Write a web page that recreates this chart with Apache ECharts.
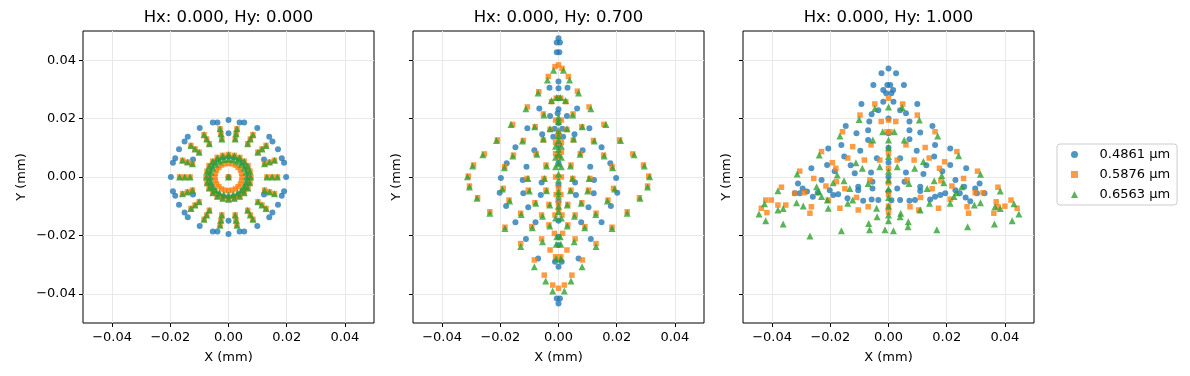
<!DOCTYPE html>
<html>
<head>
<meta charset="utf-8">
<script src="https://cdn.jsdelivr.net/npm/echarts@6/dist/echarts.min.js"></script>
<style>
  html, body { margin: 0; padding: 0; background: #fff; }
  #chart { width: 1190px; height: 376px; }
</style>
</head>
<body>
<div id="chart"></div>
<script>
// spot diagram values in mm
const titles = ['Hx: 0.000, Hy: 0.000', 'Hx: 0.000, Hy: 0.700', 'Hx: 0.000, Hy: 1.000']
const waveNames = ['0.4861 µm', '0.5876 µm', '0.6563 µm']
const tickValues = [-0.04, -0.02, 0, 0.02, 0.04]

// panel 1 (on axis)
const p1BlueOuter = [
  [0,.0195],[-.0038,.0187],[-.0054,.0187],[-.0099,.0168],[-.0140,.0138],[-.0151,.0122],[-.0170,.0095],[-.0183,.0064],[-.0191,.0049],[-.0198,0],
  [.0038,.0187],[.0054,.0187],[.0099,.0168],[.0140,.0138],[.0151,.0122],[.0170,.0095],[.0183,.0064],[.0191,.0049],[.0198,0],
  [0,-.0195],[-.0038,-.0187],[-.0054,-.0187],[-.0099,-.0168],[-.0140,-.0138],[-.0151,-.0122],[-.0170,-.0095],[-.0183,-.0064],[-.0191,-.0049],
  [.0038,-.0187],[.0054,-.0187],[.0099,-.0168],[.0140,-.0138],[.0151,-.0122],[.0170,-.0095],[.0183,-.0064],[.0191,-.0049]
]
const p1BlueInner = [
  [.0069,0],[.0067,.0018],[.0060,.0035],[.0049,.0049],[.0035,.0060],[.0018,.0067],[0,.0069],[-.0018,.0067],[-.0035,.0060],[-.0049,.0049],[-.0060,.0035],[-.0067,.0018],
  [-.0069,0],[-.0067,-.0018],[-.0060,-.0035],[-.0049,-.0049],[-.0035,-.0060],[-.0018,-.0067],[0,-.0069],[.0018,-.0067],[.0035,-.0060],[.0049,-.0049],[.0060,-.0035],[.0067,-.0018],
  [0,0],[0,.0150],[0,-.0150],[-.0122,.0060],[.0122,.0060],[-.0122,-.0060],[.0122,-.0060]
]
const p1Mid = [
  [.0132,0],[.0124,.0045],[.0101,.0085],[.0066,.0114],[.0023,.0130],[-.0023,.0130],[-.0066,.0114],[-.0101,.0085],[-.0124,.0045],
  [-.0132,0],[-.0124,-.0045],[-.0101,-.0085],[-.0066,-.0114],[-.0023,-.0130],[.0023,-.0130],[.0066,-.0114],[.0101,-.0085],[.0124,-.0045],
  [.0150,0],[.0141,.0051],[.0115,.0096],[.0075,.0130],[.0026,.0148],[-.0026,.0148],[-.0075,.0130],[-.0115,.0096],[-.0141,.0051],
  [-.0150,0],[-.0141,-.0051],[-.0115,-.0096],[-.0075,-.0130],[-.0026,-.0148],[.0026,-.0148],[.0075,-.0130],[.0115,-.0096],[.0141,-.0051],
  [.0168,0],[.0158,.0057],[.0129,.0108],[.0084,.0145],[.0029,.0165],[-.0029,.0165],[-.0084,.0145],[-.0129,.0108],[-.0158,.0057],
  [-.0168,0],[-.0158,-.0057],[-.0129,-.0108],[-.0084,-.0145],[-.0029,-.0165],[.0029,-.0165],[.0084,-.0145],[.0129,-.0108],[.0158,-.0057]
]
const p1OrangeRings = [
  [.0077,0],[.0074,.0020],[.0067,.0039],[.0054,.0054],[.0039,.0067],[.0020,.0074],[0,.0077],[-.0020,.0074],[-.0039,.0067],[-.0054,.0054],[-.0067,.0039],[-.0074,.0020],
  [-.0077,0],[-.0074,-.0020],[-.0067,-.0039],[-.0054,-.0054],[-.0039,-.0067],[-.0020,-.0074],[0,-.0077],[.0020,-.0074],[.0039,-.0067],[.0054,-.0054],[.0067,-.0039],[.0074,-.0020],
  [.0047,0],[.0045,.0012],[.0041,.0024],[.0033,.0033],[.0024,.0041],[.0012,.0045],[0,.0047],[-.0012,.0045],[-.0024,.0041],[-.0033,.0033],[-.0041,.0024],[-.0045,.0012],
  [-.0047,0],[-.0045,-.0012],[-.0041,-.0024],[-.0033,-.0033],[-.0024,-.0041],[-.0012,-.0045],[0,-.0047],[.0012,-.0045],[.0024,-.0041],[.0033,-.0033],[.0041,-.0024],[.0045,-.0012],
  [0,0]
]
const p1GreenRings = [
  [.0076,0],[.0073,.0020],[.0066,.0038],[.0054,.0054],[.0038,.0066],[.0020,.0073],[0,.0076],[-.0020,.0073],[-.0038,.0066],[-.0054,.0054],[-.0066,.0038],[-.0073,.0020],
  [-.0076,0],[-.0073,-.0020],[-.0066,-.0038],[-.0054,-.0054],[-.0038,-.0066],[-.0020,-.0073],[0,-.0076],[.0020,-.0073],[.0038,-.0066],[.0054,-.0054],[.0066,-.0038],[.0073,-.0020],
  [.0062,0],[.0060,.0016],[.0054,.0031],[.0044,.0044],[.0031,.0054],[.0016,.0060],[0,.0062],[-.0016,.0060],[-.0031,.0054],[-.0044,.0044],[-.0054,.0031],[-.0060,.0016],
  [-.0062,0],[-.0060,-.0016],[-.0054,-.0031],[-.0044,-.0044],[-.0031,-.0054],[-.0016,-.0060],[0,-.0062],[.0016,-.0060],[.0031,-.0054],[.0044,-.0044],[.0054,-.0031],[.0060,-.0016],
  [0,0]
]

// panel 2 (Hy 0.7)
const p2Blue = [
  [0,.0475],[-.0006,.0461],[.0005,.0461],[-.0006,.0427],[.0003,.0427],
  [0,.0327],[0,.0304],[-.0031,.0306],[.0031,.0306],[0,.0270],
  [-.0066,.0235],[.0064,.0235],[0,.0232],[-.0003,.0218],[-.0029,.0209],[.0029,.0209],
  [0,.0185],[-.0013,.0165],[.0013,.0165],
  [-.0107,.0167],[.0106,.0167],[-.0056,.0146],[.0055,.0146],[-.0018,.0138],[.0016,.0138],
  [-.0148,.0102],[.0148,.0102],[-.0083,.0092],[.0083,.0092],[0,.0110],
  [-.0178,.0047],[.0178,.0047],[-.0110,.0035],[.0109,.0035],[0,.0048],
  [-.0198,-.0003],[.0198,-.0003],[-.0123,-.0010],[.0122,-.0010],[-.0058,-.0019],[.0057,-.0019],[0,-.0028],
  [-.0202,-.0054],[.0202,-.0054],[-.0121,-.0056],[.0121,-.0056],[-.0061,-.0062],[.0060,-.0062],[0,-.0085],
  [-.0180,-.0099],[.0180,-.0099],[-.0104,-.0104],[.0103,-.0104],
  [-.0148,-.0155],[.0148,-.0155],[-.0079,-.0155],[.0078,-.0155],[0,-.0150],
  [-.0112,-.0212],[.0111,-.0212],[0,-.0205],[0,-.0233],
  [-.0070,-.0279],[.0069,-.0279],[-.0012,-.0290],[.0011,-.0290],[0,-.0307],
  [-.0006,-.0416],[.0005,-.0416],[0,-.0433]
]
const p2Orange = [
  [0,.0384],[-.0012,.0378],[.0012,.0372],[-.0035,.0344],[.0034,.0344],[-.0068,.0292],[.0065,.0294],
  [-.0024,.0258],[-.0008,.0270],[.0008,.0270],[.0025,.0258],[-.0107,.0240],[.0105,.0240],
  [-.0052,.0216],[.0050,.0216],[-.0010,.0195],[.0010,.0195],
  [-.0158,.0180],[.0156,.0180],[-.0080,.0172],[.0080,.0172],[-.0029,.0163],[.0029,.0163],[0,.0150],[0,.0138],
  [-.0210,.0127],[.0210,.0127],[-.0121,.0125],[.0120,.0125],[-.0052,.0127],[.0051,.0127],[-.0010,.0118],[.0010,.0118],
  [-.0255,.0079],[.0255,.0079],[-.0155,.0075],[.0155,.0075],[-.0077,.0080],[.0075,.0080],[-.0010,.0080],[.0010,.0085],[0,.0070],
  [-.0292,.0041],[.0292,.0041],[-.0185,.0035],[.0184,.0035],[-.0043,.0041],[.0043,.0041],
  [-.0310,.0003],[.0310,.0003],[-.0108,-.0005],[.0108,-.0005],[-.0050,-.0005],[.0049,-.0005],[-.0010,0],[.0010,0],
  [-.0306,-.0031],[.0306,-.0031],[-.0190,-.0039],[.0189,-.0039],[-.0104,-.0045],[.0103,-.0045],[-.0043,-.0045],[.0043,-.0045],
  [0,-.0040],[-.0008,-.0060],[.0008,-.0060],
  [-.0278,-.0071],[.0278,-.0071],[-.0170,-.0079],[.0170,-.0079],[-.0081,-.0088],[.0080,-.0088],[-.0033,-.0094],[.0032,-.0094],[0,-.0090],[0,-.0110],
  [-.0236,-.0119],[.0236,-.0119],[-.0130,-.0124],[.0129,-.0124],[-.0058,-.0130],[.0057,-.0130],[-.0012,-.0130],[.0012,-.0130],
  [-.0184,-.0172],[.0184,-.0172],[-.0092,-.0170],[.0091,-.0170],[-.0033,-.0164],[.0032,-.0164],
  [-.0014,-.0193],[.0014,-.0193],[-.0058,-.0212],[.0057,-.0212],[-.0130,-.0228],[.0129,-.0228],
  [-.0029,-.0250],[.0029,-.0250],[-.0010,-.0273],[.0008,-.0273],[-.0083,-.0284],[.0082,-.0284],
  [-.0049,-.0336],[.0046,-.0336],[-.0020,-.0370],[.0020,-.0370],[0,-.0381]
]
const p2Green = [
  [-.0017,.0366],[.0017,.0366],[-.0038,.0332],[.0038,.0332],[-.0070,.0288],[.0069,.0288],
  [-.0024,.0262],[-.0006,.0272],[.0006,.0272],[.0024,.0262],[-.0112,.0234],[.0111,.0234],
  [-.0050,.0212],[.0049,.0212],[0,.0205],[0,.0190],
  [-.0163,.0180],[.0163,.0180],[-.0082,.0172],[.0082,.0172],[-.0029,.0165],[.0029,.0165],[0,.0158],[0,.0140],
  [-.0213,.0125],[.0213,.0125],[-.0124,.0123],[.0123,.0123],[-.0052,.0130],[.0052,.0130],[0,.0125],[-.0010,.0105],[.0010,.0105],
  [-.0260,.0076],[.0260,.0076],[-.0157,.0072],[.0157,.0072],[-.0074,.0078],[.0074,.0078],[0,.0095],[0,.0078],[-.0010,.0068],[.0010,.0068],
  [-.0295,.0038],[.0295,.0038],[-.0186,.0032],[.0186,.0032],[-.0041,.0038],[.0041,.0038],[0,.0045],[-.0010,.0035],[.0010,.0035],
  [-.0313,.0001],[.0313,.0001],[-.0105,-.0005],[.0105,-.0005],[-.0048,-.0005],[.0048,-.0005],[0,.0010],[0,-.0010],
  [-.0306,-.0034],[.0306,-.0034],[-.0193,-.0041],[.0193,-.0041],[-.0100,-.0048],[.0100,-.0048],[-.0041,-.0047],[.0041,-.0047],[0,-.0050],[0,-.0065],
  [-.0280,-.0073],[.0280,-.0073],[-.0168,-.0082],[.0168,-.0082],[-.0078,-.0090],[.0078,-.0090],[-.0030,-.0096],[.0030,-.0096],[0,-.0100],[0,-.0118],
  [-.0236,-.0124],[.0236,-.0124],[-.0128,-.0128],[.0128,-.0128],[-.0055,-.0134],[.0055,-.0134],[-.0010,-.0140],[.0010,-.0140],
  [-.0184,-.0176],[.0184,-.0176],[-.0090,-.0174],[.0090,-.0174],[-.0030,-.0168],[.0030,-.0168],
  [-.0006,-.0205],[.0006,-.0205],[-.0055,-.0222],[.0054,-.0222],[-.0130,-.0238],[.0129,-.0238],[-.0008,-.0230],[.0008,-.0230],
  [-.0008,-.0280],[.0008,-.0280],[-.0083,-.0307],[.0081,-.0307],[-.0044,-.0356],[.0043,-.0356],[-.0020,-.0390],[.0020,-.0390]
]

// panel 3 (Hy 1.0)
const p3Blue = [
  [0,.0372],[-.0024,.0355],[.0026,.0355],[-.0052,.0315],[.0053,.0315],[-.0004,.0315],[.0006,.0315],
  [-.0018,.0298],[.0016,.0298],[-.0008,.0287],[.0010,.0287],
  [-.0093,.0250],[.0099,.0250],[-.0018,.0258],[.0017,.0258],[-.0035,.0229],[.0040,.0229],[.0060,.0218],[-.0058,.0215],
  [-.0066,.0190],[.0072,.0190],[-.0147,.0175],[.0151,.0175],[-.0110,.0150],[.0109,.0152],
  [-.0070,.0160],[.0072,.0160],[-.0070,.0127],[.0072,.0129],[0,.0200],[0,.0150],
  [-.0162,.0110],[.0160,.0110],[-.0207,.0098],[.0212,.0098],[-.0097,.0090],[.0097,.0090],[0,.0100],
  [-.0152,.0070],[.0157,.0070],[-.0211,.0041],[.0212,.0041],[-.0265,.0030],[.0267,.0030],[-.0040,.0064],[.0040,.0064],
  [-.0116,.0013],[.0120,.0010],[-.0060,.0015],[.0060,.0015],[0,.0050],[0,0],
  [-.0311,-.0022],[.0313,-.0022],[-.0055,-.0016],[.0055,-.0016],
  [-.0295,-.0039],[-.0322,-.0056],[-.0305,-.0056],[-.0280,-.0050],[-.0260,-.0068],[-.0243,-.0054],[-.0202,-.0045],[-.0190,-.0062],
  [-.0173,-.0059],[-.0141,-.0073],[-.0104,-.0033],[-.0104,-.0045],[-.0087,-.0081],[-.0058,-.0077],[-.0035,-.0079],[-.0055,-.0039],
  [.0260,-.0033],[.0230,-.0045],[.0245,-.0056],[.0298,-.0039],[.0265,-.0070],[.0281,-.0083],[.0195,-.0056],[.0178,-.0062],
  [.0160,-.0068],[.0143,-.0077],[.0109,-.0033],[.0109,-.0048],[.0091,-.0079],[.0072,-.0081],[.0040,-.0079],[.0030,-.0039],
  [.0330,-.0056],[.0304,-.0056],[0,-.0050],[.0010,-.0080],
  [-.0130,.0040],[.0130,.0040],[-.0185,.0020],[.0185,.0020],[-.0230,-.0010],[.0230,-.0010]
]
const p3Orange = [
  [0,.0270],[-.0047,.0250],[.0049,.0250],[-.0098,.0212],[.0099,.0212],[-.0025,.0190],[.0025,.0190],[0,.0195],
  [-.0158,.0155],[.0160,.0155],[-.0005,.0155],[.0005,.0155],[-.0123,.0104],[.0126,.0101],[-.0060,.0110],[.0060,.0110],
  [-.0230,.0087],[.0235,.0087],[-.0193,.0049],[.0193,.0052],[-.0181,.0030],[.0175,.0030],
  [-.0083,.0058],[.0088,.0058],[-.0030,.0058],[.0030,.0058],[0,.0080],[0,.0030],
  [-.0305,.0020],[.0306,.0020],[-.0257,-.0005],[.0258,-.0005],[-.0215,-.0031],[.0218,-.0031],
  [-.0179,-.0016],[.0180,-.0013],[-.0064,-.0010],[.0064,-.0010],[0,-.0020],
  [-.0368,-.0035],[.0376,-.0035],
  [-.0422,-.0079],[-.0403,-.0079],[-.0380,-.0096],[-.0353,-.0096],[-.0437,-.0107],[-.0418,-.0122],
  [.0421,-.0079],[.0370,-.0085],[.0376,-.0102],[.0442,-.0107],[.0362,-.0124],[.0400,-.0100],
  [-.0322,-.0056],[-.0290,-.0054],[.0298,-.0054],[.0325,-.0054],
  [-.0270,-.0124],[.0275,-.0124],[-.0265,-.0102],[.0270,-.0102],[-.0207,-.0079],[.0212,-.0076],
  [-.0167,-.0107],[.0172,-.0107],[-.0104,-.0113],[.0104,-.0113],[-.0070,-.0102],[.0074,-.0102],
  [0,-.0060],[0,-.0100],[0,-.0120],
  [-.0140,.0065],[.0140,.0065],[-.0110,-.0070],[.0110,-.0070],[-.0150,-.0040],[.0150,-.0040]
]
const p3Green = [
  [0,.0240],[-.0047,.0235],[.0047,.0238],[-.0101,.0197],[.0106,.0195],
  [-.0167,.0140],[.0169,.0140],[-.0020,.0155],[.0020,.0155],[0,.0127],[-.0054,.0127],[.0054,.0127],
  [-.0238,.0075],[.0241,.0073],[-.0112,.0049],[.0120,.0053],[-.0030,.0035],[.0030,.0035],
  [-.0314,.0010],[.0316,.0009],[-.0176,.0007],[.0183,.0005],[-.0153,-.0013],[.0157,-.0013],
  [-.0247,-.0033],[.0252,-.0033],[-.0240,-.0050],[.0233,-.0054],[-.0230,-.0067],[.0225,-.0067],
  [-.0380,-.0047],[.0384,-.0048],[-.0426,-.0092],[.0431,-.0092],[-.0445,-.0127],[.0448,-.0127],
  [-.0422,-.0150],[.0425,-.0150],[-.0362,-.0161],[.0364,-.0161],
  [-.0380,-.0113],[-.0362,-.0108],[-.0316,-.0088],[-.0293,-.0099],[.0366,-.0102],[.0384,-.0108],[.0316,-.0088],[.0295,-.0096],
  [-.0270,-.0202],[.0272,-.0170],[-.0207,-.0107],[-.0210,-.0079],[.0212,-.0090],
  [-.0162,-.0184],[.0166,-.0181],[-.0140,-.0090],[-.0123,-.0079],[.0109,-.0113],[.0141,-.0090],
  [-.0068,-.0159],[-.0065,-.0181],[.0068,-.0153],[.0067,-.0170],
  [-.0041,-.0107],[-.0039,-.0136],[.0042,-.0124],[.0040,-.0136],[-.0012,-.0181],[.0017,-.0184],
  [-.0133,-.0039],[-.0070,-.0022],[.0070,-.0022],[.0133,-.0039],
  [0,.0100],[0,.0070],[0,.0020],[0,-.0010],[0,-.0040],[0,-.0070],[0,-.0100],[0,-.0130],[0,-.0150],
  [-.0090,.0030],[.0090,.0030],[-.0190,-.0020],[.0190,-.0020]
]

const panelData = [
  [p1BlueOuter.concat(p1BlueInner), p1Mid.concat(p1OrangeRings), p1Mid.concat(p1GreenRings)],
  [p2Blue, p2Orange, p2Green],
  [p3Blue, p3Orange, p3Green]
]

const colors = ['#1f77b4', '#ff7f0e', '#2ca02c']
const symbols = ['circle', 'rect', 'triangle']
const sizes = [6, 5.5, 7]
const font = 'DejaVu Sans'
const gridLefts = [83, 413, 743]
const gridWidth = 291

const fmt = (v) => v.toFixed(2).replace('-', '\u2212')

const grids = gridLefts.map((l) => ({
  left: l, top: 31, width: gridWidth, height: 292,
  show: true, borderColor: '#000', borderWidth: 1, backgroundColor: '#fff',
  containLabel: false, outerBoundsMode: 'none'
}))

const xAxes = gridLefts.map((l, i) => ({
  gridIndex: i, type: 'value', min: -0.05, max: 0.05, position: 'bottom',
  name: 'X (mm)', nameLocation: 'middle', nameGap: 28,
  nameTextStyle: { color: '#000', fontSize: 13, fontFamily: font },
  axisLine: { show: false, onZero: false },
  axisTick: { show: true, length: 4, customValues: tickValues, lineStyle: { color: '#000', width: 1 } },
  axisLabel: { customValues: tickValues, formatter: fmt, color: '#000', fontSize: 13, fontFamily: font, margin: 8 },
  splitLine: { show: true, lineStyle: { color: '#e8e8e8', width: 1 } }
}))

const yAxes = gridLefts.map((l, i) => ({
  gridIndex: i, type: 'value', min: -0.05, max: 0.05, position: 'left',
  name: 'Y (mm)', nameLocation: 'middle', nameGap: i === 0 ? 55 : 10,
  nameTextStyle: { color: '#000', fontSize: 13, fontFamily: font },
  axisLine: { show: false, onZero: false },
  axisTick: { show: true, length: 4, customValues: tickValues, lineStyle: { color: '#000', width: 1 } },
  axisLabel: { show: i === 0, customValues: tickValues, formatter: fmt, color: '#000', fontSize: 13, fontFamily: font, margin: 7 },
  splitLine: { show: true, lineStyle: { color: '#e8e8e8', width: 1 } }
}))

const series = []
panelData.forEach((sets, p) => {
  sets.forEach((pts, k) => {
    series.push({
      type: 'scatter', name: waveNames[k], xAxisIndex: p, yAxisIndex: p,
      symbol: symbols[k], symbolSize: sizes[k], data: pts,
      itemStyle: { color: colors[k], opacity: 0.78 },
      emphasis: { disabled: true }
    })
  })
})

const chart = echarts.init(document.getElementById('chart'), null, { renderer: 'canvas' })
chart.setOption({
  animation: false,
  backgroundColor: '#fff',
  textStyle: { fontFamily: font },
  graphic: titles.map((t, i) => ({
    type: 'text', x: gridLefts[i] + gridWidth / 2, y: 18,
    style: { text: t, fill: '#000', font: '16.5px "DejaVu Sans"', align: 'center', verticalAlign: 'middle' }
  })),
  grid: grids,
  xAxis: xAxes,
  yAxis: yAxes,
  legend: {
    data: waveNames, orient: 'vertical', left: 1057, top: 144,
    itemWidth: 7, itemHeight: 7, itemGap: 7,
    padding: [4, 7, 4, 14],
    borderColor: '#cccccc', borderWidth: 1, borderRadius: 3, backgroundColor: '#fff',
    formatter: (n) => '    ' + n,
    textStyle: { color: '#000', fontSize: 13, fontFamily: font },
    selectedMode: false
  },
  series: series
})
</script>
</body>
</html>
